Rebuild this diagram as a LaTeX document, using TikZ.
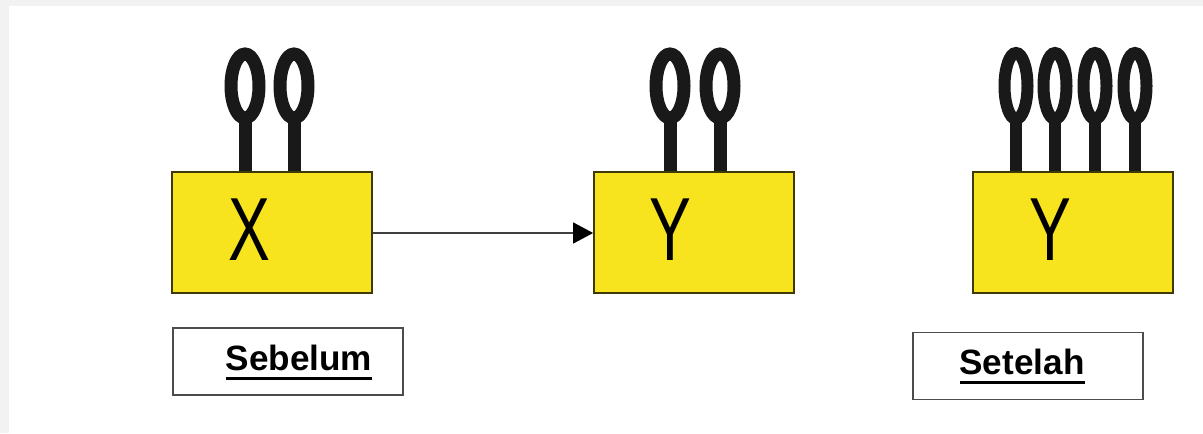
\documentclass[tikz,border=0pt]{standalone}
\usepackage{fontspec}
\setmainfont{Liberation Sans}
\usepackage{tikz}
\usetikzlibrary{arrows.meta}
\usepackage{xcolor}
\definecolor{boxyellow}{RGB}{247,228,31}
\newcommand{\ultext}[1]{\setbox0\hbox{#1}\rlap{\rule[-5.9pt]{\wd0}{1.7pt}}\box0}

\begin{document}
\begin{tikzpicture}[x=0.02cm,y=-0.02cm,
  genebox/.style={draw=black!75!boxyellow,line width=1pt,fill=boxyellow,minimum width=4cm,minimum height=2.42cm,inner sep=0pt},
  letter/.style={font=\fontsize{51}{51}\selectfont,xscale=0.7,inner sep=0pt},
  labelbox/.style={draw=black!70,line width=1.1pt,minimum width=4.6cm,minimum height=1.34cm,inner sep=0pt},
  labeltext/.style={font=\bfseries\fontsize{20}{20}\selectfont,anchor=base,inner sep=0pt},
  loopring/.style={line width=0.26cm,black!90},
  loopstem/.style={line width=0.26cm,black!90}]
  \useasboundingbox (0,0) rectangle (1203,433);
  \fill[black!5] (0,0) rectangle (1203,6);
  \fill[black!5] (0,0) rectangle (9,433);
  % loops on the boxes
  \foreach \lx in {245,294,670,720}{
    \draw[loopstem] (\lx,118) -- (\lx,172);
    \draw[loopring] (\lx,86) ellipse [x radius=0.28cm,y radius=0.64cm];
  }
  \foreach \lx in {1016,1055,1095,1135}{
    \draw[loopstem,line width=0.24cm] (\lx,118) -- (\lx,172);
    \draw[loopring,line width=0.24cm] (\lx,86) ellipse [x radius=0.23cm,y radius=0.66cm];
  }
  \node[genebox] (xbox) at (272,232.5) {};
  \node[genebox] (ymid) at (694,232.5) {};
  \node[genebox] (yend) at (1073,232.5) {};
  \node[letter] (xlet) at (249,230) {X};
  \node[letter] (ylet) at (670,230) {Y};
  \node[letter] (ylet2) at (1050,230) {Y};
  \draw[black!75,line width=0.7pt,-{Triangle[length=0.4cm,width=0.42cm,black]}] (xbox.east |- 0,233) -- (ymid.west |- 0,233);
  \node[labelbox] (before) at (288,361.5) {};
  \node[labelbox] (after) at (1028,366) {};
  \node[labeltext] (beforetxt) at (299,370) {\ultext{Sebelum}};
  \node[labeltext] (aftertxt) at (1022,374) {\ultext{Setelah}};
\end{tikzpicture}
\end{document}
